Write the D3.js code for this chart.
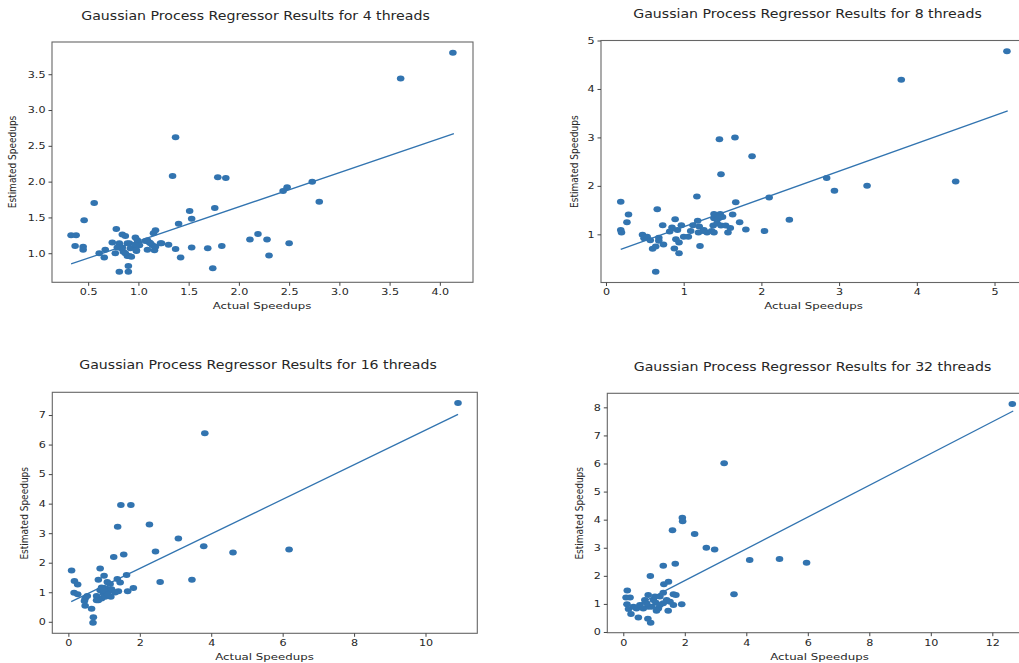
<!DOCTYPE html>
<html>
<head>
<meta charset="utf-8">
<script src="https://cdn.jsdelivr.net/npm/d3@7/dist/d3.min.js"></script>
<style>
  html, body { margin: 0; padding: 0; background: #fff; }
  svg { display: block; }
  text { font-family: "DejaVu Sans", sans-serif; fill: #262626; }
</style>
</head>
<body>
<svg id="chart" width="1019" height="663"></svg>
<script>
// ---------- DATA ----------
const titles = [
  "Gaussian Process Regressor Results for 4 threads",
  "Gaussian Process Regressor Results for 8 threads",
  "Gaussian Process Regressor Results for 16 threads",
  "Gaussian Process Regressor Results for 32 threads"
];
const xLabel = "Actual Speedups";
const yLabel = "Estimated Speedups";

// 4 threads: [actual, estimated]
const points4 = [
  [4.13,3.80],[3.61,3.44],[1.37,2.62],[1.34,2.08],[1.79,2.06],[1.87,2.05],[2.73,2.00],
  [2.44,1.87],[2.48,1.92],[2.80,1.72],[0.56,1.70],[1.51,1.59],[1.76,1.63],[1.53,1.48],
  [1.40,1.41],[0.46,1.46],[0.33,1.25],[0.38,1.25],[0.37,1.10],[0.45,1.09],[0.45,1.05],
  [0.78,1.34],[0.84,1.26],[0.87,1.24],[0.74,1.15],[0.61,1.00],[0.67,1.05],[0.66,0.94],
  [0.77,1.00],[0.81,1.11],[0.83,1.07],[0.91,1.14],[0.85,1.02],[0.89,0.96],[0.93,0.95],
  [0.90,0.82],[0.81,0.74],[0.90,0.74],[0.97,1.22],[1.00,1.15],[0.98,1.03],[1.01,1.11],
  [1.09,1.18],[1.11,1.15],[1.09,1.05],[1.16,1.04],[1.15,1.28],[1.17,1.32],[1.14,1.11],
  [1.23,1.14],[1.30,1.12],[1.37,1.06],[1.42,0.94],[1.53,1.08],[1.69,1.07],[1.83,1.10],
  [1.74,0.79],[2.11,1.19],[2.19,1.27],[2.28,1.19],[2.30,0.97],[2.50,1.14],[0.81,1.14],
  [0.84,1.08],[0.89,1.14],[0.92,1.07],[0.99,1.18],[0.97,1.11],[1.07,1.17],[1.12,1.14],
  [1.17,1.09],[1.22,1.14],[0.98,1.04],[0.91,0.96],[0.87,1.00],[0.79,1.08]
];
// 8 threads
const points8 = [
  [5.16,4.78],[3.80,4.19],[4.50,2.09],[3.36,2.00],[2.94,1.90],[2.84,2.16],[2.36,1.30],
  [2.10,1.76],[2.04,1.07],[1.88,2.61],[1.66,3.00],[1.46,2.96],[1.48,2.24],[1.67,1.66],
  [1.63,1.41],[1.72,1.25],[1.80,1.10],[1.17,1.78],[0.19,1.67],[0.29,1.41],[0.27,1.25],
  [0.19,1.09],[0.20,1.04],[0.66,1.52],[0.64,0.23],[0.47,0.99],[0.49,0.92],[0.53,0.95],
  [0.57,0.88],[0.60,0.70],[0.64,0.75],[0.68,0.93],[0.68,0.87],[0.73,1.19],[0.74,0.79],
  [0.82,1.06],[0.85,1.14],[0.89,1.31],[0.92,1.09],[0.90,0.90],[0.94,0.83],[0.88,0.71],
  [0.94,0.61],[0.97,1.19],[1.00,0.95],[1.06,0.95],[1.09,1.07],[1.12,1.19],[1.18,1.28],
  [1.20,1.16],[1.19,1.04],[1.21,0.76],[1.25,1.07],[1.30,1.04],[1.36,1.07],[1.39,1.04],
  [1.38,1.18],[1.39,1.33],[1.39,1.42],[1.45,1.33],[1.47,1.42],[1.50,1.36],[1.43,1.23],
  [1.48,1.18],[1.54,1.18],[1.57,1.04],[1.60,1.13],[1.26,1.09]
];
// 16 threads
const points16 = [
  [10.91,7.41],[3.82,6.38],[1.47,3.95],[1.75,3.95],[1.38,3.22],[2.27,3.29],[3.08,2.82],
  [3.79,2.56],[2.44,2.38],[4.61,2.35],[6.18,2.45],[3.46,1.42],[2.57,1.35],[1.55,2.28],
  [1.27,2.19],[0.09,1.74],[0.89,1.80],[1.00,1.56],[0.84,1.42],[0.17,1.38],[0.26,1.26],
  [0.16,0.98],[0.26,0.93],[0.47,0.79],[0.47,0.54],[0.65,0.44],[0.70,0.15],[0.69,-0.03],
  [1.63,1.58],[1.37,1.45],[1.45,1.33],[1.09,1.35],[1.82,1.14],[1.66,1.03],[1.40,1.03],
  [1.19,0.85],[0.53,0.87],[0.79,0.87],[0.84,0.73],[0.93,0.79],[0.89,1.07],[0.98,0.96],
  [1.05,1.13],[1.12,1.02],[1.21,1.10],[1.31,0.99],[1.03,0.85],[0.79,0.73],[1.17,1.28],
  [0.93,1.16],[0.45,0.70],[1.00,1.05],[1.10,0.92]
];
// 32 threads
const points32 = [
  [12.65,8.12],[3.28,6.01],[1.92,4.07],[1.93,3.94],[1.60,3.62],[2.32,3.49],[2.70,3.00],
  [2.97,2.94],[4.11,2.56],[5.08,2.60],[5.96,2.47],[3.60,1.34],[1.30,2.36],[1.69,2.43],
  [0.88,1.99],[0.13,1.48],[0.09,1.23],[0.22,1.23],[1.47,1.79],[1.32,1.70],[1.30,1.40],
  [0.81,1.32],[1.63,1.34],[1.71,1.32],[1.90,0.99],[0.12,0.99],[0.17,0.82],[0.25,0.64],
  [0.49,0.52],[0.80,0.47],[0.89,0.33],[0.43,0.84],[0.54,0.96],[0.70,1.14],[0.98,1.14],
  [1.19,1.26],[1.06,1.04],[1.14,0.84],[1.46,0.76],[1.63,0.96],[1.08,0.76],[0.81,0.90],
  [1.30,1.02],[1.41,1.14],[0.92,0.90],[0.65,0.84],[1.19,0.96],[1.52,1.08],[0.33,0.90],
  [1.03,1.26],[0.76,1.02]
];
const seriesPoints = [points4, points8, points16, points32];

// fitted regression line endpoints (data units): [x0, y0, x1, y1]
const fitLines = [
  [0.33, 0.85, 4.14, 2.67],
  [0.19, 0.69, 5.17, 3.55],
  [0.08, 0.68, 10.91, 7.02],
  [0.09, 0.75, 12.68, 7.87]
];

// axis limits and ticks
const xDomains = [[0.14, 4.33], [-0.064, 5.405], [-0.45, 11.45], [-0.52, 13.31]];
const yDomains = [[0.594, 3.95], [0.006, 5.0], [-0.39, 7.77], [-0.025, 8.5]];
const xTicks = [[0.5,1.0,1.5,2.0,2.5,3.0,3.5,4.0],[0,1,2,3,4,5],[0,2,4,6,8,10],[0,2,4,6,8,10,12]];
const yTicks = [[1.0,1.5,2.0,2.5,3.0,3.5],[1,2,3,4,5],[0,1,2,3,4,5,6,7],[0,1,2,3,4,5,6,7,8]];
const xTickFmt = [".1f", "d", "d", "d"];
const yTickFmt = [".1f", "d", "d", "d"];

// ---------- LAYOUT ----------
const boxes = [
  {l: 52,    r: 473,    t: 42,    b: 282.3},
  {l: 601,   r: 1026,   t: 40.5,  b: 282.5},
  {l: 52.3,  r: 477.3,  t: 392.3, b: 633.3},
  {l: 607.3, r: 1032.6, t: 393.3, b: 632.7}
];
const titlePos = [[255.5, 19.5], [807.5, 18.2], [258, 369], [812.5, 370.7]];
const xLabelPos = [[262, 308.5], [813.5, 308.8], [264.5, 659.8], [819.5, 659.5]];
const yLabelPos = [[16.3, 162], [577.6, 161.7], [28.3, 513.3], [583.3, 513.3]];

const SX = 1.24;            // horizontal stretch of the original image
const dotColor = "#3274b0";
const svg = d3.select("#chart");

boxes.forEach((bx, i) => {
  const x = d3.scaleLinear().domain(xDomains[i]).range([bx.l, bx.r]);
  const y = d3.scaleLinear().domain(yDomains[i]).range([bx.b, bx.t]);
  const g = svg.append("g");

  // points
  g.append("g").selectAll("ellipse").data(seriesPoints[i]).join("ellipse")
    .attr("cx", d => x(d[0])).attr("cy", d => y(d[1]))
    .attr("rx", 3.8).attr("ry", 3.0)
    .attr("fill", dotColor);

  // fit line
  const f = fitLines[i];
  g.append("line")
    .attr("x1", x(f[0])).attr("y1", y(f[1]))
    .attr("x2", x(f[2])).attr("y2", y(f[3]))
    .attr("stroke", dotColor).attr("stroke-width", 1.3);

  // frame
  g.append("rect")
    .attr("x", bx.l).attr("y", bx.t)
    .attr("width", bx.r - bx.l).attr("height", bx.b - bx.t)
    .attr("fill", "none").attr("stroke", "#666").attr("stroke-width", 1.1);

  // x axis
  const xa = g.append("g").attr("transform", `translate(0,${bx.b})`)
    .call(d3.axisBottom(x).tickValues(xTicks[i]).tickFormat(d3.format(xTickFmt[i]))
      .tickSizeOuter(0).tickSize(3.5).tickPadding(3));
  xa.select(".domain").remove();
  xa.selectAll(".tick line").attr("stroke", "#444");
  xa.selectAll(".tick text")
    .attr("font-family", "DejaVu Sans").attr("font-size", 9).attr("fill", "#262626")
    .attr("transform", `scale(${SX},1)`);

  // y axis
  const ya = g.append("g").attr("transform", `translate(${bx.l},0)`)
    .call(d3.axisLeft(y).tickValues(yTicks[i]).tickFormat(d3.format(yTickFmt[i]))
      .tickSizeOuter(0).tickSize(3.5).tickPadding(3));
  ya.select(".domain").remove();
  ya.selectAll(".tick line").attr("stroke", "#444");
  ya.selectAll(".tick text")
    .attr("font-family", "DejaVu Sans").attr("font-size", 9).attr("fill", "#262626")
    .attr("x", -6.5 / SX)
    .attr("transform", `scale(${SX},1)`);

  // title
  svg.append("text")
    .attr("transform", `translate(${titlePos[i][0]},${titlePos[i][1]}) scale(${SX},1)`)
    .attr("text-anchor", "middle").attr("font-size", 11.4)
    .text(titles[i]);

  // x label
  svg.append("text")
    .attr("transform", `translate(${xLabelPos[i][0]},${xLabelPos[i][1]}) scale(${SX},1)`)
    .attr("text-anchor", "middle").attr("font-size", 9.5)
    .text(xLabel);

  // y label
  svg.append("text")
    .attr("transform", `translate(${yLabelPos[i][0]},${yLabelPos[i][1]}) rotate(-90) scale(1,${SX})`)
    .attr("text-anchor", "middle").attr("font-size", 9)
    .text(yLabel);
});
</script>
</body>
</html>
